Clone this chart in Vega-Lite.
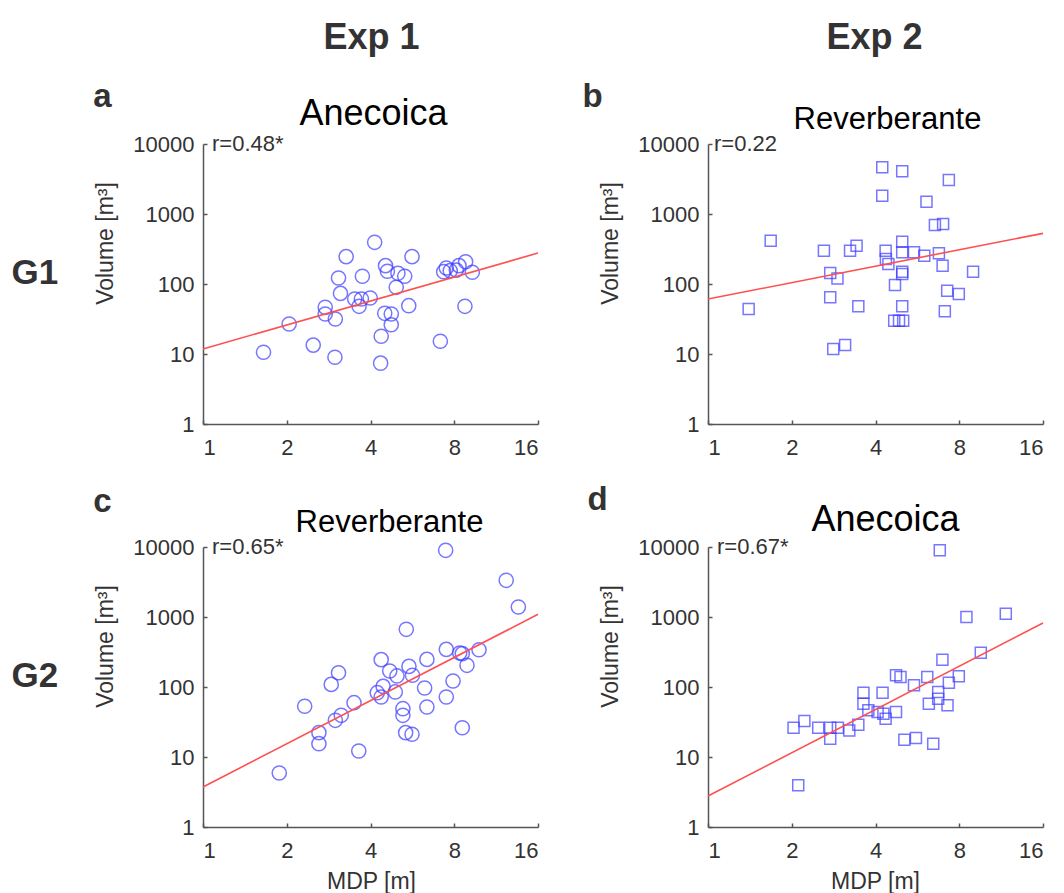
{
  "$schema": "https://vega.github.io/schema/vega-lite/v6.json",
  "padding": {"left": 11, "top": 19, "right": 5, "bottom": 0},
  "background": "white",
  "config": {
    "view": {"stroke": null},
    "font": "Liberation Sans",
    "axis": {
      "grid": false,
      "domainColor": "#555555",
      "domainWidth": 1.5,
      "tickColor": "#555555",
      "tickWidth": 1.5,
      "tickSize": -4,
      "labelFont": "Liberation Sans",
      "labelFontSize": 22,
      "labelColor": "#333333",
      "titleFont": "Liberation Sans",
      "titleColor": "#333333",
      "titleFontWeight": "normal"
    }
  },
  "datasets": {
    "pts": [
      {"p":"a","x":1.65,"y":10.6},{"p":"a","x":2.04,"y":26.8},{"p":"a","x":2.49,"y":13.4},{"p":"a","x":2.98,"y":9.0},{"p":"a","x":2.75,"y":46.4},{"p":"a","x":2.75,"y":37.3},{"p":"a","x":2.99,"y":31.6},{"p":"a","x":3.07,"y":122},{"p":"a","x":3.12,"y":73.5},{"p":"a","x":3.27,"y":246},{"p":"a","x":3.51,"y":61},{"p":"a","x":3.71,"y":61},{"p":"a","x":3.64,"y":48},{"p":"a","x":3.74,"y":129},{"p":"a","x":3.99,"y":63},{"p":"a","x":4.14,"y":394},{"p":"a","x":4.37,"y":17.9},{"p":"a","x":4.35,"y":7.4},{"p":"a","x":4.5,"y":38.1},{"p":"a","x":4.75,"y":37.3},{"p":"a","x":4.75,"y":26.2},{"p":"a","x":4.53,"y":183},{"p":"a","x":4.6,"y":152},{"p":"a","x":4.95,"y":89.6},{"p":"a","x":5.02,"y":142},{"p":"a","x":5.31,"y":129},{"p":"a","x":5.49,"y":49},{"p":"a","x":5.64,"y":246},{"p":"a","x":7.13,"y":15.2},{"p":"a","x":7.33,"y":150},{"p":"a","x":7.49,"y":169},{"p":"a","x":7.74,"y":155},{"p":"a","x":8.14,"y":158},{"p":"a","x":8.32,"y":183},{"p":"a","x":8.79,"y":208},{"p":"a","x":8.74,"y":48},{"p":"a","x":9.29,"y":147},
      {"p":"b","x":1.40,"y":44},{"p":"b","x":1.68,"y":416},{"p":"b","x":2.61,"y":299},{"p":"b","x":2.75,"y":144},{"p":"b","x":2.92,"y":120},{"p":"b","x":2.75,"y":64.5},{"p":"b","x":2.82,"y":11.8},{"p":"b","x":3.11,"y":13.4},{"p":"b","x":3.24,"y":299},{"p":"b","x":3.42,"y":353},{"p":"b","x":3.47,"y":48},{"p":"b","x":4.23,"y":4640},{"p":"b","x":4.23,"y":1828},{"p":"b","x":4.35,"y":299},{"p":"b","x":4.36,"y":228},{"p":"b","x":4.45,"y":193},{"p":"b","x":4.7,"y":96.8},{"p":"b","x":4.99,"y":4070},{"p":"b","x":4.99,"y":403},{"p":"b","x":4.99,"y":283},{"p":"b","x":4.99,"y":150},{"p":"b","x":4.99,"y":139},{"p":"b","x":4.99,"y":48},{"p":"b","x":4.67,"y":29.9},{"p":"b","x":4.86,"y":29.9},{"p":"b","x":5.03,"y":29.9},{"p":"b","x":5.5,"y":283},{"p":"b","x":5.99,"y":254},{"p":"b","x":6.1,"y":1500},{"p":"b","x":6.54,"y":697},{"p":"b","x":7.0,"y":720},{"p":"b","x":6.76,"y":274},{"p":"b","x":6.97,"y":183},{"p":"b","x":7.34,"y":3060},{"p":"b","x":7.24,"y":80},{"p":"b","x":7.1,"y":40.7},{"p":"b","x":7.97,"y":72},{"p":"b","x":8.97,"y":150},
      {"p":"c","x":1.88,"y":5.9},{"p":"c","x":2.32,"y":53},{"p":"c","x":2.61,"y":22.3},{"p":"c","x":2.61,"y":15.5},{"p":"c","x":2.89,"y":109},{"p":"c","x":3.07,"y":160},{"p":"c","x":2.99,"y":33.4},{"p":"c","x":3.14,"y":39.4},{"p":"c","x":3.49,"y":59.7},{"p":"c","x":3.63,"y":12.2},{"p":"c","x":4.23,"y":83},{"p":"c","x":4.37,"y":72},{"p":"c","x":4.44,"y":102},{"p":"c","x":4.37,"y":246},{"p":"c","x":4.69,"y":169},{"p":"c","x":4.91,"y":85},{"p":"c","x":4.98,"y":144},{"p":"c","x":5.23,"y":49},{"p":"c","x":5.23,"y":39.4},{"p":"c","x":5.35,"y":22.3},{"p":"c","x":5.64,"y":21.1},{"p":"c","x":5.38,"y":667},{"p":"c","x":5.5,"y":197},{"p":"c","x":5.66,"y":147},{"p":"c","x":6.26,"y":96.8},{"p":"c","x":6.38,"y":248},{"p":"c","x":6.38,"y":51.8},{"p":"c","x":7.49,"y":72},{"p":"c","x":7.49,"y":345},{"p":"c","x":7.45,"y":8960},{"p":"c","x":7.92,"y":122},{"p":"c","x":8.37,"y":306},{"p":"c","x":8.55,"y":300},{"p":"c","x":8.55,"y":26.2},{"p":"c","x":8.89,"y":204},{"p":"c","x":9.82,"y":341},{"p":"c","x":12.3,"y":3340},{"p":"c","x":13.6,"y":1390},
      {"p":"d","x":2.03,"y":26.2},{"p":"d","x":2.22,"y":32.7},{"p":"d","x":2.11,"y":3.94},{"p":"d","x":2.49,"y":26.2},{"p":"d","x":2.75,"y":18.3},{"p":"d","x":2.75,"y":26.2},{"p":"d","x":2.93,"y":26.2},{"p":"d","x":3.22,"y":24},{"p":"d","x":3.47,"y":29},{"p":"d","x":3.62,"y":83},{"p":"d","x":3.62,"y":57.8},{"p":"d","x":3.77,"y":46.4},{"p":"d","x":4.07,"y":44},{"p":"d","x":4.24,"y":83},{"p":"d","x":4.27,"y":41.6},{"p":"d","x":4.35,"y":35.3},{"p":"d","x":4.74,"y":44},{"p":"d","x":4.74,"y":147},{"p":"d","x":4.92,"y":139},{"p":"d","x":5.08,"y":17.7},{"p":"d","x":5.59,"y":18.7},{"p":"d","x":5.5,"y":106},{"p":"d","x":6.14,"y":139},{"p":"d","x":6.22,"y":57.8},{"p":"d","x":6.45,"y":15.5},{"p":"d","x":6.72,"y":85},{"p":"d","x":6.72,"y":68},{"p":"d","x":6.96,"y":246},{"p":"d","x":6.81,"y":8960},{"p":"d","x":7.26,"y":54.7},{"p":"d","x":7.34,"y":115},{"p":"d","x":7.97,"y":142},{"p":"d","x":8.49,"y":1000},{"p":"d","x":9.56,"y":309},{"p":"d","x":11.76,"y":1116}
    ],
    "fit": [
      {"p":"a","x":1,"y":11.8},{"p":"a","x":16,"y":277},
      {"p":"b","x":1,"y":61},{"p":"b","x":16,"y":529},
      {"p":"c","x":1,"y":3.73},{"p":"c","x":16,"y":1092},
      {"p":"d","x":1,"y":2.77},{"p":"d","x":16,"y":821}
    ],
    "lab": [
      {"p":"a","r":"r=0.48*"},
      {"p":"b","r":"r=0.22"},
      {"p":"c","r":"r=0.65*"},
      {"p":"d","r":"r=0.67*"}
    ]
  },
  "bounds": "flush",
  "columns": 2,
  "spacing": {"row": 123, "column": 170},
  "concat": [
    {
      "width": 335, "height": 280,
      "layer": [
        {
          "data": {"name": "pts"}, "transform": [{"filter": "datum.p == 'a'"}],
          "mark": {"type": "point", "shape": "circle", "filled": false, "size": 200, "color": "#3d3dff", "strokeWidth": 1.5},
          "encoding": {
            "x": {"field": "x", "type": "quantitative", "scale": {"type": "log", "base": 2, "domain": [1, 16], "nice": false},
                  "axis": {"values": [1, 2, 4, 8, 16], "format": "d", "title": null, "labelBaseline": "alphabetic", "labelPadding": 34}},
            "y": {"field": "y", "type": "quantitative", "scale": {"type": "log", "base": 10, "domain": [1, 10000], "nice": false},
                  "axis": {"values": [1, 10, 100, 1000, 10000], "format": "d", "labelPadding": 13, "title": "Volume [m³]", "titleAngle": 270, "titleX": -91, "titleY": 99, "titleAlign": "center", "titleBaseline": "alphabetic", "titleFontSize": 23}}
          }
        },
        {
          "data": {"name": "fit"}, "transform": [{"filter": "datum.p == 'a'"}],
          "mark": {"type": "line", "color": "#ff5050", "strokeWidth": 1.6},
          "encoding": {
            "x": {"field": "x", "type": "quantitative", "axis": {"orient": "top", "labels": false, "ticks": false, "domain": false, "title": "Anecoica", "titleX": 170, "titleY": -20, "titleAlign": "center", "titleBaseline": "alphabetic", "titleFontSize": 36, "titleColor": "#000000"}},
            "y": {"field": "y", "type": "quantitative", "axis": {"orient": "left", "labels": false, "ticks": false, "domain": false, "title": "G1", "titleAngle": 0, "titleX": -192, "titleY": 139, "titleAlign": "left", "titleBaseline": "alphabetic", "titleFontSize": 35, "titleFontWeight": "bold"}}
          }
        },
        {
          "data": {"name": "lab"}, "transform": [{"filter": "datum.p == 'a'"}],
          "mark": {"type": "text", "align": "left", "baseline": "middle", "dx": 9, "fontSize": 22, "color": "#333333", "font": "Liberation Sans"},
          "encoding": {
            "x": {"datum": 1, "type": "quantitative", "axis": {"orient": "top", "labels": false, "ticks": false, "domain": false, "title": "a", "titleX": -101, "titleY": -38, "titleAlign": "center", "titleBaseline": "alphabetic", "titleFontSize": 33, "titleFontWeight": "bold"}},
            "y": {"datum": 10000, "type": "quantitative", "axis": {"orient": "left", "labels": false, "ticks": false, "domain": false, "title": "Exp 1", "titleAngle": 0, "titleX": 168, "titleY": -96, "titleAlign": "center", "titleBaseline": "alphabetic", "titleFontSize": 36, "titleFontWeight": "bold"}},
            "text": {"field": "r"}
          }
        }
      ],
      "resolve": {"axis": {"x": "independent", "y": "independent"}}
    },
    {
      "width": 335, "height": 280,
      "layer": [
        {
          "data": {"name": "pts"}, "transform": [{"filter": "datum.p == 'b'"}],
          "mark": {"type": "point", "shape": "square", "filled": false, "size": 121, "color": "#3d3dff", "strokeWidth": 1.5},
          "encoding": {
            "x": {"field": "x", "type": "quantitative", "scale": {"type": "log", "base": 2, "domain": [1, 16], "nice": false},
                  "axis": {"values": [1, 2, 4, 8, 16], "format": "d", "title": null, "labelBaseline": "alphabetic", "labelPadding": 34}},
            "y": {"field": "y", "type": "quantitative", "scale": {"type": "log", "base": 10, "domain": [1, 10000], "nice": false},
                  "axis": {"values": [1, 10, 100, 1000, 10000], "format": "d", "labelPadding": 13, "title": "Volume [m³]", "titleAngle": 270, "titleX": -91, "titleY": 99, "titleAlign": "center", "titleBaseline": "alphabetic", "titleFontSize": 23}}
          }
        },
        {
          "data": {"name": "fit"}, "transform": [{"filter": "datum.p == 'b'"}],
          "mark": {"type": "line", "color": "#ff5050", "strokeWidth": 1.6},
          "encoding": {
            "x": {"field": "x", "type": "quantitative", "axis": {"orient": "top", "labels": false, "ticks": false, "domain": false, "title": "Reverberante", "titleX": 179, "titleY": -16, "titleAlign": "center", "titleBaseline": "alphabetic", "titleFontSize": 31, "titleColor": "#000000"}},
            "y": {"field": "y", "type": "quantitative", "axis": null}
          }
        },
        {
          "data": {"name": "lab"}, "transform": [{"filter": "datum.p == 'b'"}],
          "mark": {"type": "text", "align": "left", "baseline": "middle", "dx": 6, "fontSize": 22, "color": "#333333", "font": "Liberation Sans"},
          "encoding": {
            "x": {"datum": 1, "type": "quantitative", "axis": {"orient": "top", "labels": false, "ticks": false, "domain": false, "title": "b", "titleX": -116, "titleY": -38, "titleAlign": "center", "titleBaseline": "alphabetic", "titleFontSize": 33, "titleFontWeight": "bold"}},
            "y": {"datum": 10000, "type": "quantitative", "axis": {"orient": "left", "labels": false, "ticks": false, "domain": false, "title": "Exp 2", "titleAngle": 0, "titleX": 166, "titleY": -96, "titleAlign": "center", "titleBaseline": "alphabetic", "titleFontSize": 36, "titleFontWeight": "bold"}},
            "text": {"field": "r"}
          }
        }
      ],
      "resolve": {"axis": {"x": "independent", "y": "independent"}}
    },
    {
      "width": 335, "height": 280,
      "layer": [
        {
          "data": {"name": "pts"}, "transform": [{"filter": "datum.p == 'c'"}],
          "mark": {"type": "point", "shape": "circle", "filled": false, "size": 200, "color": "#3d3dff", "strokeWidth": 1.5},
          "encoding": {
            "x": {"field": "x", "type": "quantitative", "scale": {"type": "log", "base": 2, "domain": [1, 16], "nice": false},
                  "axis": {"values": [1, 2, 4, 8, 16], "format": "d", "labelBaseline": "alphabetic", "labelPadding": 34, "title": "MDP [m]", "titleX": 168, "titleY": 61, "titleAlign": "center", "titleBaseline": "alphabetic", "titleFontSize": 23}},
            "y": {"field": "y", "type": "quantitative", "scale": {"type": "log", "base": 10, "domain": [1, 10000], "nice": false},
                  "axis": {"values": [1, 10, 100, 1000, 10000], "format": "d", "labelPadding": 13, "title": "Volume [m³]", "titleAngle": 270, "titleX": -91, "titleY": 99, "titleAlign": "center", "titleBaseline": "alphabetic", "titleFontSize": 23}}
          }
        },
        {
          "data": {"name": "fit"}, "transform": [{"filter": "datum.p == 'c'"}],
          "mark": {"type": "line", "color": "#ff5050", "strokeWidth": 1.6},
          "encoding": {
            "x": {"field": "x", "type": "quantitative", "axis": {"orient": "top", "labels": false, "ticks": false, "domain": false, "title": "Reverberante", "titleX": 186, "titleY": -16, "titleAlign": "center", "titleBaseline": "alphabetic", "titleFontSize": 31, "titleColor": "#000000"}},
            "y": {"field": "y", "type": "quantitative", "axis": {"orient": "left", "labels": false, "ticks": false, "domain": false, "title": "G2", "titleAngle": 0, "titleX": -192, "titleY": 139, "titleAlign": "left", "titleBaseline": "alphabetic", "titleFontSize": 35, "titleFontWeight": "bold"}}
          }
        },
        {
          "data": {"name": "lab"}, "transform": [{"filter": "datum.p == 'c'"}],
          "mark": {"type": "text", "align": "left", "baseline": "middle", "dx": 9, "fontSize": 22, "color": "#333333", "font": "Liberation Sans"},
          "encoding": {
            "x": {"datum": 1, "type": "quantitative", "axis": {"orient": "top", "labels": false, "ticks": false, "domain": false, "title": "c", "titleX": -101, "titleY": -36, "titleAlign": "center", "titleBaseline": "alphabetic", "titleFontSize": 33, "titleFontWeight": "bold"}},
            "y": {"datum": 10000, "type": "quantitative", "axis": null},
            "text": {"field": "r"}
          }
        }
      ],
      "resolve": {"axis": {"x": "independent", "y": "independent"}}
    },
    {
      "width": 335, "height": 280,
      "layer": [
        {
          "data": {"name": "pts"}, "transform": [{"filter": "datum.p == 'd'"}],
          "mark": {"type": "point", "shape": "square", "filled": false, "size": 121, "color": "#3d3dff", "strokeWidth": 1.5},
          "encoding": {
            "x": {"field": "x", "type": "quantitative", "scale": {"type": "log", "base": 2, "domain": [1, 16], "nice": false},
                  "axis": {"values": [1, 2, 4, 8, 16], "format": "d", "labelBaseline": "alphabetic", "labelPadding": 34, "title": "MDP [m]", "titleX": 167, "titleY": 61, "titleAlign": "center", "titleBaseline": "alphabetic", "titleFontSize": 23}},
            "y": {"field": "y", "type": "quantitative", "scale": {"type": "log", "base": 10, "domain": [1, 10000], "nice": false},
                  "axis": {"values": [1, 10, 100, 1000, 10000], "format": "d", "labelPadding": 13, "title": "Volume [m³]", "titleAngle": 270, "titleX": -91, "titleY": 99, "titleAlign": "center", "titleBaseline": "alphabetic", "titleFontSize": 23}}
          }
        },
        {
          "data": {"name": "fit"}, "transform": [{"filter": "datum.p == 'd'"}],
          "mark": {"type": "line", "color": "#ff5050", "strokeWidth": 1.6},
          "encoding": {
            "x": {"field": "x", "type": "quantitative", "axis": {"orient": "top", "labels": false, "ticks": false, "domain": false, "title": "Anecoica", "titleX": 177, "titleY": -17, "titleAlign": "center", "titleBaseline": "alphabetic", "titleFontSize": 36, "titleColor": "#000000"}},
            "y": {"field": "y", "type": "quantitative", "axis": null}
          }
        },
        {
          "data": {"name": "lab"}, "transform": [{"filter": "datum.p == 'd'"}],
          "mark": {"type": "text", "align": "left", "baseline": "middle", "dx": 9, "fontSize": 22, "color": "#333333", "font": "Liberation Sans"},
          "encoding": {
            "x": {"datum": 1, "type": "quantitative", "axis": {"orient": "top", "labels": false, "ticks": false, "domain": false, "title": "d", "titleX": -111, "titleY": -38, "titleAlign": "center", "titleBaseline": "alphabetic", "titleFontSize": 33, "titleFontWeight": "bold"}},
            "y": {"datum": 10000, "type": "quantitative", "axis": null},
            "text": {"field": "r"}
          }
        }
      ],
      "resolve": {"axis": {"x": "independent", "y": "independent"}}
    }
  ]
}
